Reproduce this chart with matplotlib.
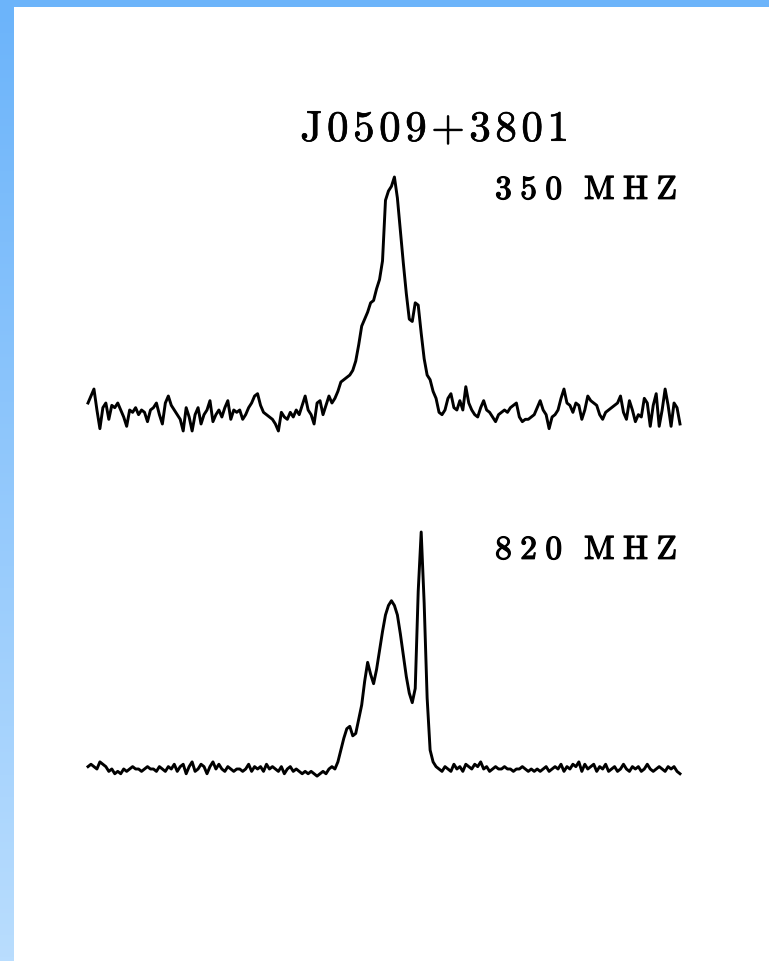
import numpy as np
import matplotlib.pyplot as plt
import matplotlib.patheffects as pe
from matplotlib.colors import LinearSegmentedColormap

plt.rcParams['mathtext.fontset'] = 'cm'

source = 'J0509+3801'
freq_labels = ['350 MHZ', '820 MHZ']

# normalised pulse profiles, one value per phase bin
prof_350 = [
    0.03, 0.06, 0.09, 0.00, -0.08, 0.01, 0.03, -0.04, 0.02, 0.01,
    0.03, 0.00, -0.03, -0.07, 0.00, -0.01, 0.01, -0.02, 0.00, -0.01,
    -0.05, 0.00, 0.01, 0.03, -0.02, -0.06, 0.03, 0.06, 0.02, 0.00,
    -0.02, -0.04, -0.09, 0.01, -0.03, -0.09, -0.02, 0.01, -0.06, -0.02,
    0.00, 0.04, -0.05, -0.02, 0.00, -0.03, 0.01, 0.04, -0.04, 0.00,
    -0.01, 0.00, -0.04, -0.02, 0.01, 0.03, 0.06, 0.07, 0.02, -0.01,
    -0.02, -0.03, -0.04, -0.06, -0.09, -0.01, -0.03, -0.04, -0.01, -0.03,
    0.00, -0.02, 0.02, 0.06, 0.00, -0.02, -0.06, 0.03, 0.04, -0.02,
    0.02, 0.06, 0.03, 0.05, 0.08, 0.12, 0.13, 0.14, 0.15, 0.17,
    0.21, 0.28, 0.36, 0.39, 0.42, 0.46, 0.47, 0.52, 0.56, 0.64,
    0.90, 0.94, 0.96, 1.00, 0.91, 0.77, 0.63, 0.50, 0.39, 0.38,
    0.46, 0.45, 0.33, 0.22, 0.15, 0.13, 0.08, 0.05, -0.01, -0.02,
    0.00, 0.05, 0.07, 0.01, 0.00, 0.04, 0.00, 0.10, 0.03, 0.00,
    -0.02, -0.03, 0.01, 0.04, 0.00, -0.01, -0.03, -0.05, -0.02, -0.01,
    0.00, -0.01, 0.01, 0.02, 0.03, -0.03, -0.05, -0.04, -0.04, -0.03,
    -0.02, 0.01, 0.04, 0.00, -0.02, -0.08, -0.03, -0.02, 0.00, 0.05,
    0.09, 0.03, 0.02, -0.01, 0.03, 0.02, -0.04, 0.00, 0.06, 0.04,
    0.03, 0.02, -0.02, -0.04, -0.01, 0.00, 0.01, 0.02, 0.03, 0.06,
    -0.01, -0.04, 0.04, 0.00, -0.05, -0.02, -0.03, 0.05, 0.03, -0.07,
    0.02, 0.07, -0.07, 0.00, 0.09, 0.02, -0.07, 0.03, 0.01, -0.06,
]

prof_820 = [
    0.01, 0.02, 0.01, 0.00, 0.03, 0.02, 0.01, -0.01, 0.00, -0.02,
    -0.01, -0.02, 0.00, -0.01, 0.00, 0.01, 0.00, 0.00, -0.01, 0.00,
    0.01, 0.00, 0.00, -0.01, 0.01, 0.00, -0.01, 0.01, 0.00, 0.02,
    -0.01, 0.01, 0.02, -0.02, 0.01, 0.03, -0.01, 0.00, 0.02, 0.01,
    -0.02, 0.01, 0.03, 0.00, 0.02, 0.00, -0.01, 0.01, 0.00, -0.01,
    0.00, 0.00, -0.01, 0.00, 0.02, -0.01, 0.01, 0.00, 0.01, -0.01,
    0.02, 0.00, 0.01, 0.00, -0.01, 0.01, -0.02, 0.00, 0.01, -0.01,
    0.00, -0.01, -0.02, -0.01, -0.02, -0.01, -0.02, -0.03, -0.02, -0.01,
    -0.02, 0.00, 0.01, 0.00, 0.03, 0.08, 0.13, 0.17, 0.18, 0.14,
    0.15, 0.21, 0.27, 0.37, 0.45, 0.40, 0.36, 0.42, 0.50, 0.58,
    0.65, 0.69, 0.71, 0.69, 0.65, 0.57, 0.48, 0.39, 0.32, 0.28,
    0.34, 0.75, 1.00, 0.70, 0.30, 0.08, 0.03, 0.01, 0.00, -0.01,
    0.01, 0.00, -0.01, 0.02, 0.00, 0.01, -0.01, 0.02, 0.01, 0.00,
    0.02, 0.01, 0.03, 0.00, 0.01, -0.01, 0.00, 0.01, 0.00, 0.00,
    0.01, 0.00, 0.00, -0.01, 0.00, 0.00, 0.01, 0.00, -0.01, 0.00,
    -0.01, 0.00, -0.01, 0.00, 0.01, -0.01, 0.00, 0.01, 0.00, 0.02,
    -0.01, 0.01, 0.00, 0.02, 0.01, 0.03, -0.01, 0.02, 0.00, 0.01,
    0.02, -0.01, 0.01, 0.00, 0.02, -0.01, 0.00, 0.01, -0.01, 0.00,
    0.02, 0.00, -0.01, 0.01, 0.00, 0.01, -0.01, 0.00, 0.02, 0.00,
    -0.01, 0.00, 0.01, 0.00, -0.01, 0.01, 0.00, 0.01, -0.01, -0.02,
]

W, H = 769, 962
fig = plt.figure(figsize=(W / 100, H / 100), dpi=100)

# blue frame: flat band along the top, fading strip down the left
top_band = fig.add_axes([0, 1 - 8 / H, 1, 8 / H])
top_band.add_patch(plt.Rectangle((0, 0), 1, 1, color='#6cb4fa', transform=top_band.transAxes))
top_band.axis('off')

side = fig.add_axes([0, 0, 14 / W, 1 - 8 / H])
cmap = LinearSegmentedColormap.from_list('side', ['#b9ddfe', '#6cb4fa'])
side.imshow(np.linspace(0, 1, 256)[:, None], cmap=cmap, aspect='auto', origin='lower')
side.axis('off')


def profile_axes(base_px, peak_px, left_px=88, right_px=680, ylo=-0.2, yhi=1.05):
    unit = base_px - peak_px
    bot = base_px - ylo * unit
    top = base_px - yhi * unit
    ax = fig.add_axes([left_px / W, 1 - bot / H, (right_px - left_px) / W, (bot - top) / H])
    ax.set_ylim(ylo, yhi)
    ax.axis('off')
    return ax


for prof, base, peak in [(prof_350, 411, 178), (prof_820, 770, 533)]:
    ax = profile_axes(base, peak)
    ax.plot(np.arange(len(prof)), prof, color='black', lw=2.1, clip_on=False)
    ax.set_xlim(0, len(prof) - 1)


def spaced(s, track, gap):
    # letter spacing (in em) inside one mathtext run; '+' kept as an ordinary glyph
    sep = r'\hspace{%g}' % track
    words = [sep.join('{+}' if c == '+' else c for c in w) for w in s.split(' ')]
    return r'$\mathrm{' + (r'\hspace{%g}' % gap).join(words) + '}$'


fig.text(434 / W, 1 - 142 / H, spaced(source, 0.12, 0), ha='center', va='baseline', fontsize=31,
         path_effects=[pe.withStroke(linewidth=0.5, foreground='black')])
for label, y in zip(freq_labels, [200, 560]):
    fig.text(677 / W, 1 - y / H, spaced(label, 0.29, 0.75), ha='right', va='baseline', fontsize=24,
             path_effects=[pe.withStroke(linewidth=0.9, foreground='black')])

fig.savefig('out.png', dpi=100)
